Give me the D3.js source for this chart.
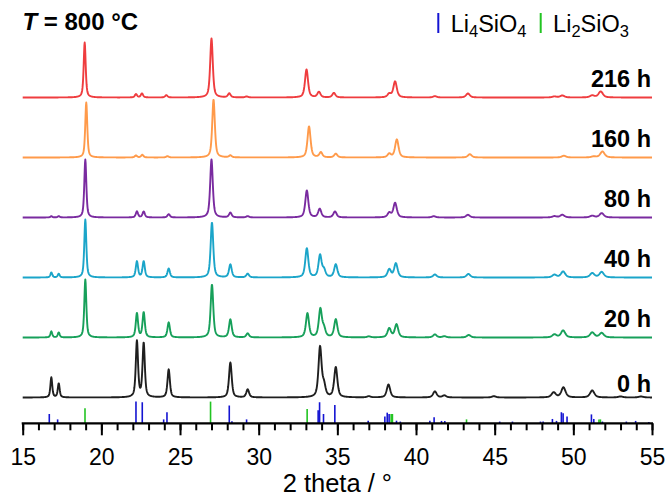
<!DOCTYPE html>
<html><head><meta charset="utf-8">
<script src="https://cdn.jsdelivr.net/npm/d3@7"></script>
<style>
body{margin:0;background:#fff}
svg{display:block}
text{font-family:"Liberation Sans",Arial,Helvetica,sans-serif}
</style>
</head><body>
<svg id="chart" width="666" height="496"></svg>
<script>
// ---------------- DATA ----------------
// series labels (bottom to top)
const seriesLabels = ["0 h", "20 h", "40 h", "80 h", "160 h", "216 h"];
// peak lists for each pattern: [2 theta (deg), intensity (a.u.)]
const peaks0h = [[16.82,20],[17.29,14],[22.26,56],[22.69,54],[24.28,28],[28.2,35],[29.3,8],[33.9,50],[34.15,11],[34.9,30],
  [37.0,1.2],[38.25,13],[41.2,6],[41.8,2],[44.95,1.3],[48.75,5],[49.37,10],[51.2,7],[53.0,1],[54.3,1]];
const peaks20h = [[16.82,6],[17.29,5],[18.98,58],[22.26,24],[22.69,25],[24.28,15],[27.03,53],[28.2,18],[29.3,4],[33.1,24],[33.92,28],[34.15,8],[34.9,18],
  [37.0,1],[38.3,9],[38.76,13],[41.2,3],[41.8,1.2],[43.35,2.5],[48.8,3],[49.35,7],[51.2,5],[51.8,4.5]];
const peaks40h = [[16.82,5],[17.29,3.7],[18.98,58],[22.26,16],[22.69,16],[24.28,9],[27.03,55],[28.2,13],[29.3,3.7],[33.06,29],[33.9,22],[34.15,7],[34.9,13],
  [38.3,8],[38.72,14],[41.2,3],[43.33,3.5],[48.8,2.7],[49.35,6],[51.2,4.3],[51.8,5.5]];
const peaks80h = [[16.82,1.3],[17.29,1.3],[18.98,58],[22.26,6],[22.69,6],[24.28,3.3],[27.0,58],[28.2,4.7],[29.3,1.3],[33.06,27],[33.88,8.5],[34.85,6],
  [38.3,4.5],[38.67,14.5],[41.13,1.3],[43.3,2.7],[48.8,1.3],[49.3,2.7],[51.2,1.7],[51.8,4.3]];
const peaks160h = [[19.04,55],[22.2,2],[22.6,2.7],[24.2,1.3],[27.13,58],[28.2,2],[33.2,31],[33.95,5],[34.9,3.7],
  [38.3,3.5],[38.78,18],[43.42,3.3],[49.4,1.7],[51.3,1],[51.85,6]];
const peaks216h = [[18.94,55],[22.2,3.3],[22.58,4],[24.13,2.3],[27.0,59],[28.13,4],[29.23,1],[33.04,28],[33.83,5.5],[34.78,4.5],
  [38.3,3.5],[38.67,16],[41.2,1.3],[43.3,4],[48.8,1],[49.3,2],[51.2,2],[51.74,6]];
const seriesPeaks = [peaks0h, peaks20h, peaks40h, peaks80h, peaks160h, peaks216h];

// reference patterns (2 theta, relative intensity %)
const li4sio4Pos = [16.69,17.22,22.2,22.6,23.96,24.17,28.13,28.3,29.23,33.78,33.87,34.12,34.84,36.96,38.02,38.17,38.29,38.76,39.0,
  40.88,41.15,41.62,41.83,45.32,46.13,47.91,48.08,48.67,48.93,49.24,49.35,49.6,51.15,51.3,51.85,53.37,53.96,54.8];
const li4sio4Int = [43,18,100,97,18,51,82,9,18,60,97,43,84,12,31,49,43,12,8,
  12,28,11,11,8,8,8,8,20,11,51,46,31,41,20,8,8,11,6];
const li2sio3Pos = [18.96,26.94,33.08,38.42,38.5,43.21,51.63,51.72];
const li2sio3Int = [69,100,66,43,43,18,18,18];

// axis tick labels
const xTickLabels = [15,20,25,30,35,40,45,50,55];
const xMinorTicks = d3.range(15,56,1);
const legendLabels = [["Li","4","SiO","4"],["Li","2","SiO","3"]];

// ---------------- STYLE ----------------
const seriesColors = ["#1f1f1f","#17a05a","#1ba5c9","#7a2ba0","#ff9a4a","#ef3d3f"];
const li4Color = "#1414d2", li2Color = "#22c422";

// ---------------- DRAW ----------------
const svg = d3.select("#chart");
const x = d3.scaleLinear().domain([15,55]).range([22.7,652]);
const y = d3.scaleLinear().domain([0,300]).range([397.5,97.5]);
const yRef = d3.scaleLinear().domain([0,100]).range([423.3,401.6]);
const spacing = 60;

function profile(peaks){
  const pts = [];
  for (let t = 15; t <= 55.0001; t += 0.02){
    let s = 0;
    for (const [p,h] of peaks){
      const w = 0.13 + 0.0055*(p-15);
      const d = (t-p)/w;
      s += h*(0.6/(1+4*d*d) + 0.4*Math.exp(-2.7726*d*d));
    }
    pts.push([t,s]);
  }
  return pts;
}

const line = d3.line().x(d=>x(d[0])).y(d=>d[1]);
seriesPeaks.forEach((pk,i)=>{
  const off = i*spacing;
  const pts = profile(pk).map(d=>[d[0], y(d[1]+off)]);
  svg.append("path").attr("d", line(pts)).attr("fill","none")
    .attr("stroke", seriesColors[i]).attr("stroke-width",1.9).attr("stroke-linejoin","round");
  svg.append("text").attr("x",651).attr("y", y(off)-(i===0?6:10.5))
    .attr("text-anchor","end").attr("font-size",23.5).attr("font-weight","bold")
    .attr("fill","#000").text(seriesLabels[i]);
});

// reference sticks
svg.append("g").selectAll("line").data(li4sio4Pos.map((p,i)=>[p,li4sio4Int[i]])).join("line")
  .attr("x1",d=>x(d[0])).attr("x2",d=>x(d[0])).attr("y1",yRef(0)).attr("y2",d=>yRef(d[1]))
  .attr("stroke",li4Color).attr("stroke-width",1.6);
svg.append("g").selectAll("line").data(li2sio3Pos.map((p,i)=>[p,li2sio3Int[i]])).join("line")
  .attr("x1",d=>x(d[0])).attr("x2",d=>x(d[0])).attr("y1",yRef(0)).attr("y2",d=>yRef(d[1]))
  .attr("stroke",li2Color).attr("stroke-width",1.6);

// x axis
const axisY = 423.3;
const minor = svg.append("g").attr("transform",`translate(0,${axisY})`)
  .call(d3.axisBottom(x).tickValues(xMinorTicks).tickSize(7).tickSizeOuter(0).tickFormat(""));
minor.select(".domain").remove();
minor.selectAll("line").attr("stroke","#000").attr("stroke-width",2);
const major = svg.append("g").attr("transform",`translate(0,${axisY})`)
  .call(d3.axisBottom(x).tickValues(xTickLabels).tickSize(12).tickSizeOuter(0));
major.select(".domain").attr("stroke","#000").attr("stroke-width",2.2).attr("d",`M${x(15)-1},0H${x(55)+1}`);
major.selectAll(".tick line").attr("stroke","#000").attr("stroke-width",2);
major.selectAll(".tick text").attr("y",41.5).attr("dy",null).attr("font-size",23)
  .attr("font-family","Liberation Sans, Arial, sans-serif").attr("fill","#000");

svg.append("text").attr("x",(x(15)+x(55))/2).attr("y",492).attr("text-anchor","middle")
  .attr("font-size",25.5).attr("fill","#000").text("2 theta / °");

// title
const title = svg.append("text").attr("x",22.5).attr("y",30).attr("font-size",24).attr("font-weight","bold").attr("fill","#000");
title.append("tspan").attr("font-style","italic").text("T");
title.append("tspan").text(" = 800 °C");

// legend
const legendX = [438.3, 540.7];
const legendColors = [li4Color, li2Color];
legendLabels.forEach((parts,i)=>{
  svg.append("line").attr("x1",legendX[i]).attr("x2",legendX[i]).attr("y1",13).attr("y2",33)
    .attr("stroke",legendColors[i]).attr("stroke-width",2);
  const t = svg.append("text").attr("x",legendX[i]+12.4).attr("y",31.7).attr("font-size",23.5).attr("fill","#000");
  t.append("tspan").text(parts[0]);
  t.append("tspan").attr("font-size",16.5).attr("dy",5).text(parts[1]);
  t.append("tspan").attr("dy",-5).text(parts[2]);
  t.append("tspan").attr("font-size",16.5).attr("dy",5).text(parts[3]);
});
</script>
</body></html>
